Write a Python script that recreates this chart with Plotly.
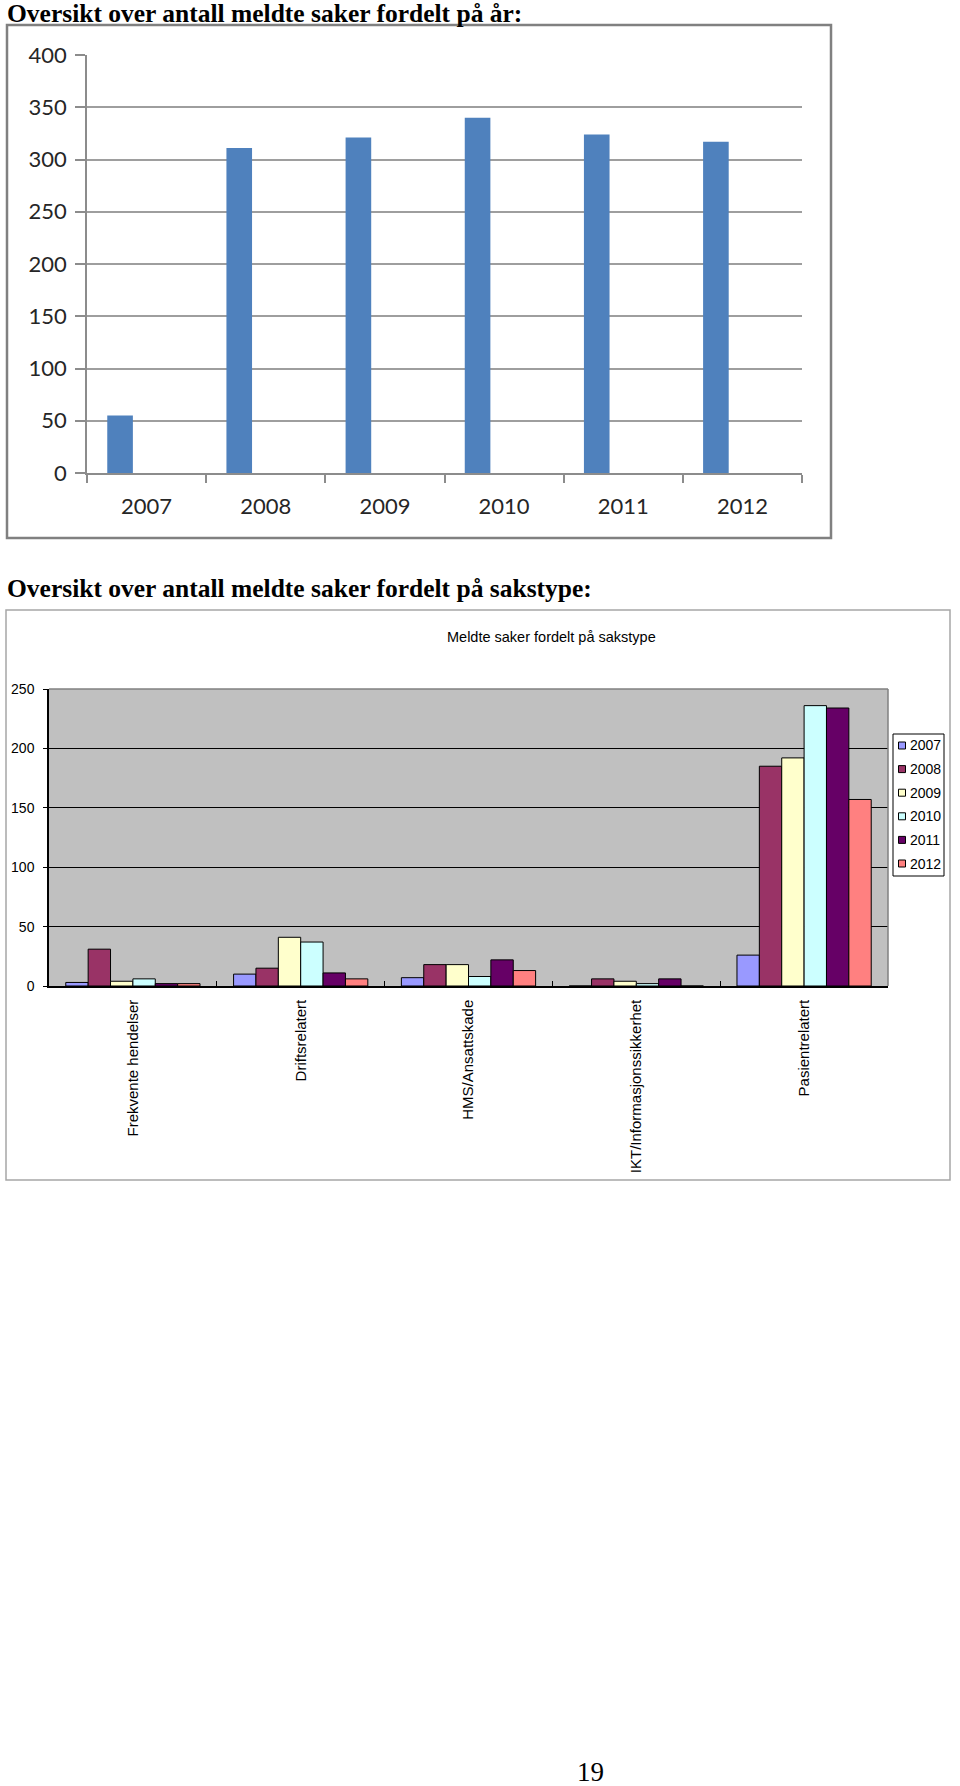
import plotly.graph_objects as go

W, H = 960, 1786

# ---------- data ----------
years = ["2007", "2008", "2009", "2010", "2011", "2012"]
cases_per_year = [55, 311, 321, 340, 324, 317]

case_types = ["Frekvente hendelser", "Driftsrelatert", "HMS/Ansattskade",
              "IKT/Informasjonssikkerhet", "Pasientrelatert"]
type_2007 = [3, 10, 7, 0, 26]
type_2008 = [31, 15, 18, 6, 185]
type_2009 = [4, 41, 18, 4, 192]
type_2010 = [6, 37, 8, 2, 236]
type_2011 = [2, 11, 22, 6, 234]
type_2012 = [2, 6, 13, 0, 157]
series_by_year = [type_2007, type_2008, type_2009, type_2010, type_2011, type_2012]
series_colors = ["#9999FF", "#993366", "#FFFFCC", "#CCFFFF", "#660066", "#FF8080"]

y1_ticks = [0, 50, 100, 150, 200, 250, 300, 350, 400]
y2_ticks = [0, 50, 100, 150, 200, 250]


def px(x):
    return x / W


def py(y):
    return 1 - y / H


fig = go.Figure()

# ---------- top chart ----------
fig.add_trace(go.Bar(
    x=years, y=cases_per_year, xaxis="x", yaxis="y",
    marker=dict(color="#4F81BD", line=dict(width=0)),
    width=0.215, offset=-0.33, showlegend=False,
))

# ---------- bottom chart ----------
for yr, vals, col in zip(years, series_by_year, series_colors):
    fig.add_trace(go.Bar(
        x=case_types, y=vals, name=yr, xaxis="x2", yaxis="y2",
        marker=dict(color=col, line=dict(color="black", width=1)),
        showlegend=False,
    ))

top_font = dict(family="Lato, 'Open Sans', sans-serif", size=22, color="#262626")
bot_font = dict(family="'Liberation Sans', Arial, sans-serif", size=14, color="black")
lab_font = dict(family="'Liberation Sans', Arial, sans-serif", size=15, color="black")

fig.update_layout(
    width=W, height=H,
    margin=dict(l=0, r=0, t=0, b=0, autoexpand=False),
    paper_bgcolor="white",
    plot_bgcolor="rgba(0,0,0,0)",
    barmode="group",
    bargap=0.2, bargroupgap=0,
    xaxis=dict(
        domain=[px(87), px(802)], anchor="y", type="category",
        range=[-0.5, 5.5], automargin=False,
        showline=True, linecolor="#8c8c8c", linewidth=1.5,
        ticks="outside", tickson="boundaries", ticklen=8, tickcolor="#8c8c8c",
        tickwidth=1.5, showgrid=False, tickfont=top_font, ticklabelstandoff=13,
    ),
    yaxis=dict(
        domain=[py(473), py(55)], anchor="x", automargin=False,
        range=[0, 400], tickvals=y1_ticks,
        showline=True, linecolor="#8c8c8c", linewidth=1.5,
        ticks="outside", ticklen=10, tickcolor="#8c8c8c", tickwidth=1.5,
        showgrid=True, gridcolor="#9e9e9e", gridwidth=1.5,
        zeroline=False, tickfont=top_font, ticklabelstandoff=4,
    ),
    xaxis2=dict(
        domain=[px(49), px(888)], anchor="y2", type="category",
        range=[-0.5, 4.5], automargin=False,
        showline=True, linecolor="black", linewidth=1.5,
        ticks="inside", tickson="boundaries", ticklen=5, tickcolor="black",
        showgrid=False, tickangle=-90, tickfont=lab_font, ticklabelstandoff=6,
    ),
    yaxis2=dict(
        domain=[py(986), py(689)], anchor="x2", automargin=False,
        range=[0, 250], tickvals=y2_ticks,
        showline=True, linecolor="black", linewidth=1.5,
        ticks="outside", ticklen=4, tickcolor="black",
        showgrid=True, gridcolor="black", gridwidth=1,
        zeroline=False, tickfont=bot_font, ticklabelstandoff=6,
    ),
)

shapes = []
# bottom plot-area background (gray)
shapes.append(dict(type="rect", xref="paper", yref="paper",
                   x0=px(49), x1=px(888), y0=py(986), y1=py(689),
                   line=dict(width=0), fillcolor="#C0C0C0", layer="below"))
# top chart frame
shapes.append(dict(type="rect", xref="paper", yref="paper",
                   x0=px(7), x1=px(831), y0=py(538), y1=py(25),
                   line=dict(color="#808080", width=2.5), layer="below"))
# bottom chart frame
shapes.append(dict(type="rect", xref="paper", yref="paper",
                   x0=px(6), x1=px(950), y0=py(1180), y1=py(610),
                   line=dict(color="#a6a6a6", width=1.5), layer="below"))
# plot-area border (top & right) of bottom chart
shapes.append(dict(type="line", xref="paper", yref="paper",
                   x0=px(49), x1=px(888), y0=py(689), y1=py(689),
                   line=dict(color="#808080", width=1.5)))
shapes.append(dict(type="line", xref="paper", yref="paper",
                   x0=px(888), x1=px(888), y0=py(689), y1=py(986),
                   line=dict(color="#808080", width=1.5)))

# manual legend
shapes.append(dict(type="rect", xref="paper", yref="paper",
                   x0=px(893), x1=px(944), y0=py(876), y1=py(734),
                   line=dict(color="black", width=1), fillcolor="white"))
annotations = []
for i, (yr, col) in enumerate(zip(years, series_colors)):
    yc = 745.5 + i * 23.6
    shapes.append(dict(type="rect", xref="paper", yref="paper",
                       x0=px(898.5), x1=px(905.5), y0=py(yc + 3.5), y1=py(yc - 3.5),
                       line=dict(color="black", width=1), fillcolor=col))
    annotations.append(dict(text=yr, xref="paper", yref="paper",
                            x=px(908), y=py(yc), xanchor="left", yanchor="middle",
                            showarrow=False, font=bot_font))

head_font = dict(family="'Liberation Serif', 'Times New Roman', serif", size=25.5, color="black")
annotations.append(dict(text="<b>Oversikt over antall meldte saker fordelt på år:</b>",
                        xref="paper", yref="paper", x=px(5), y=py(13),
                        xanchor="left", yanchor="middle", showarrow=False, font=head_font))
annotations.append(dict(text="<b>Oversikt over antall meldte saker fordelt på sakstype:</b>",
                        xref="paper", yref="paper", x=px(5), y=py(588),
                        xanchor="left", yanchor="middle", showarrow=False, font=head_font))
annotations.append(dict(text="Meldte saker fordelt på sakstype",
                        xref="paper", yref="paper", x=px(551), y=py(637),
                        xanchor="center", yanchor="middle", showarrow=False,
                        font=dict(family="'Liberation Sans', Arial, sans-serif", size=14.5, color="black")))
annotations.append(dict(text="19", xref="paper", yref="paper", x=px(590), y=py(1772),
                        xanchor="center", yanchor="middle", showarrow=False,
                        font=dict(family="'Liberation Serif', serif", size=27, color="black")))

fig.update_layout(shapes=shapes, annotations=annotations)

fig.write_html("out.html")
